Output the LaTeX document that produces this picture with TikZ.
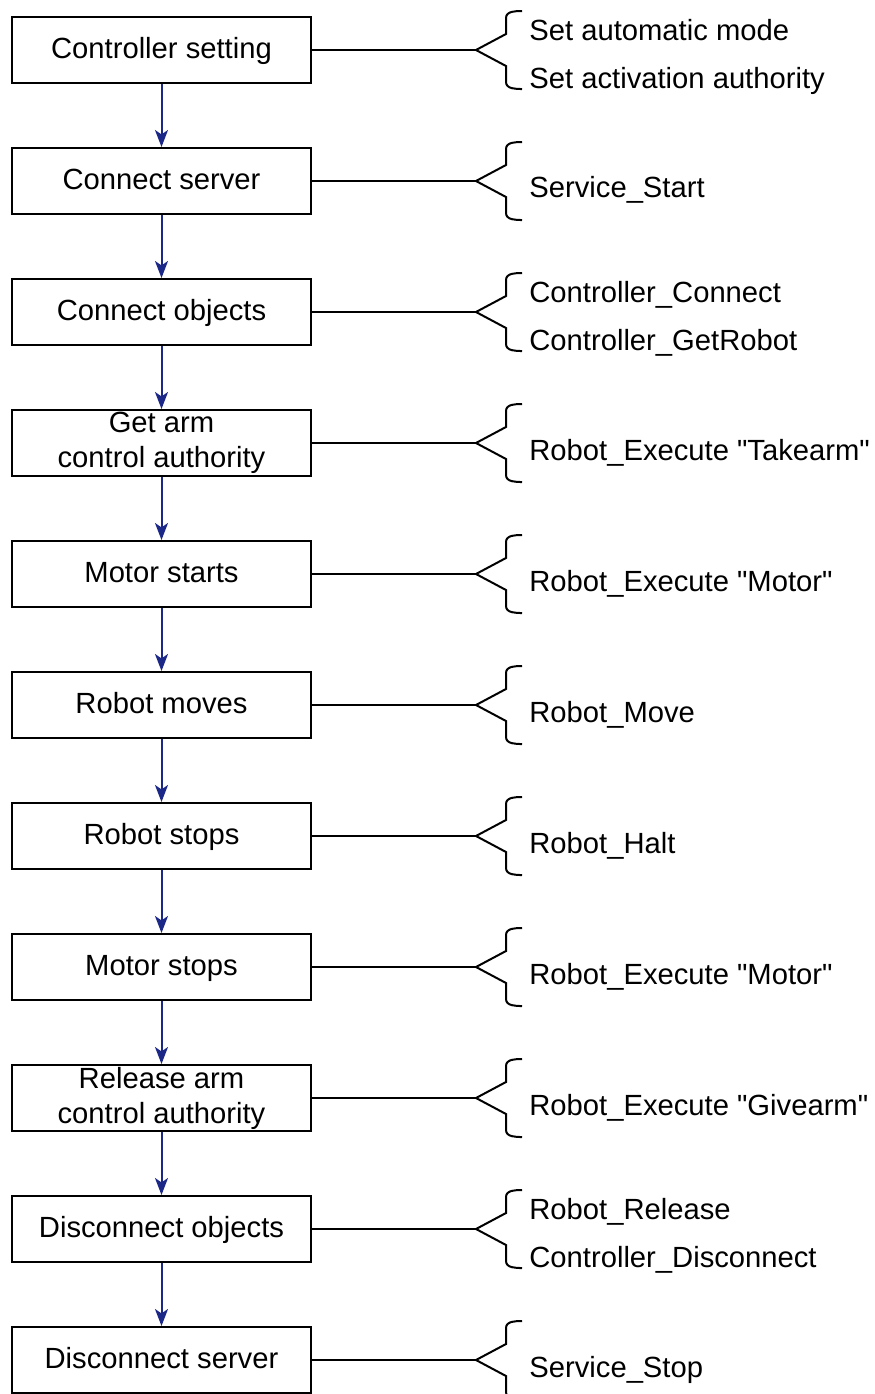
\documentclass[tikz,border=0pt]{standalone}
\usepackage{fontspec}
\setmainfont{Liberation Sans}
\usetikzlibrary{arrows.meta}
\definecolor{flowblue}{RGB}{28,40,135}

\begin{document}
\begin{tikzpicture}[x=0.5pt,y=-0.5pt,>={Stealth[length=8.5pt,width=6.5pt,inset=2.2pt]},
  every node/.style={font=\fontsize{14.6}{17.5}\selectfont},
  stepbox/.style={draw,line width=1pt,minimum width=149.5pt,minimum height=33pt,inner sep=0pt,align=center},
  one/.style={text height=0.85em,text depth=0pt},
  two/.style={},
  func/.style={anchor=base west,inner sep=0pt}]
\useasboundingbox (0,0) rectangle (874,1394);
% steps, their links to the braces
\foreach \i/\txt/\ty in {1/Controller setting/one,2/Connect server/one,3/Connect objects/one,4/{Get arm\\control authority}/two,5/Motor starts/one,6/Robot moves/one,7/Robot stops/one,8/Motor stops/one,9/{Release arm\\control authority}/two,10/Disconnect objects/one,11/Disconnect server/one}{
  \pgfmathsetmacro\c{50+131*(\i-1)}
  \node[stepbox,\ty] (b\i) at (161.5,\c) {\txt};
  \coordinate (t\i) at (476,\c);
  \draw[line width=1pt] (b\i.east) -- (t\i);
  \draw[line width=1pt] (t\i) -- ++(30,-16) -- ++(0,-16) .. controls +(0,-7) and +(-6,0) .. ++(16,-7);
  \draw[line width=1pt] (t\i) -- ++(30,16) -- ++(0,16) .. controls +(0,7) and +(-6,0) .. ++(16,7);
}
\foreach \i [evaluate=\i as \j using int(\i+1)] in {1,...,10}
  \draw[->,flowblue,line width=1pt] (b\i.south) -- (b\j.north);
% function calls
\node[func] (f1a) at (529,40) {Set automatic mode};
\node[func] (f1b) at (529,88) {Set activation authority};
\node[func] (f2) at (529,197) {Service\_Start};
\node[func] (f3a) at (529,302) {Controller\_Connect};
\node[func] (f3b) at (529,350) {Controller\_GetRobot};
\node[func] (f4) at (529,460) {Robot\_Execute \textquotedbl Takearm\textquotedbl};
\node[func] (f5) at (529,591) {Robot\_Execute \textquotedbl Motor\textquotedbl};
\node[func] (f6) at (529,722) {Robot\_Move};
\node[func] (f7) at (529,853) {Robot\_Halt};
\node[func] (f8) at (529,984) {Robot\_Execute \textquotedbl Motor\textquotedbl};
\node[func] (f9) at (529,1115) {Robot\_Execute \textquotedbl Givearm\textquotedbl};
\node[func] (f10a) at (529,1219) {Robot\_Release};
\node[func] (f10b) at (529,1267) {Controller\_Disconnect};
\node[func] (f11) at (529,1377) {Service\_Stop};
\end{tikzpicture}
\end{document}
